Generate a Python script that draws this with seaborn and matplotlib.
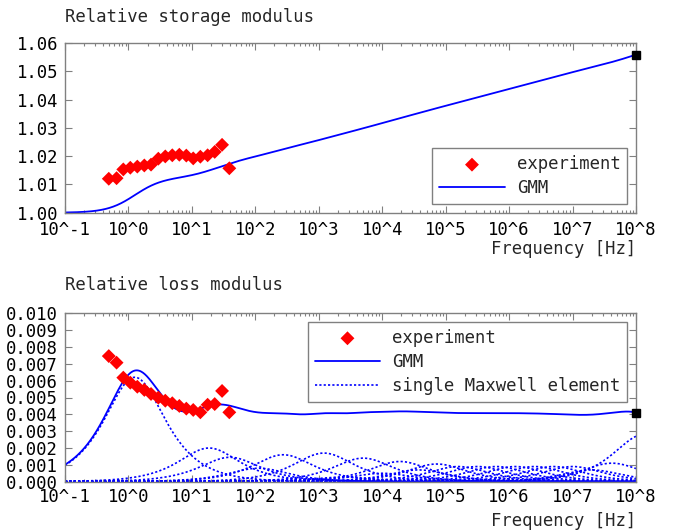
import numpy as np
import pandas as pd
import matplotlib
matplotlib.use("Agg")
import matplotlib.pyplot as plt
import seaborn as sns
from matplotlib.ticker import FixedLocator, FixedFormatter, LogLocator, NullFormatter

# Measured frequencies [Hz] and relative moduli
freq_exp = [0.49, 0.65, 0.83, 1.07, 1.38, 1.78, 2.27, 2.96, 3.81, 4.91,
            6.34, 8.17, 10.5, 13.6, 17.7, 22.9, 29.9, 38.9]
storage_exp = [1.0120, 1.0122, 1.0153, 1.0159, 1.0163, 1.0167, 1.0170, 1.0191, 1.0199,
               1.0203, 1.0205, 1.0202, 1.0192, 1.0198, 1.0203, 1.0215, 1.0240, 1.0157]
loss_exp = [0.00746, 0.00707, 0.00618, 0.00588, 0.00564, 0.00545, 0.00521, 0.00499, 0.00481,
            0.00466, 0.00450, 0.00434, 0.00426, 0.00412, 0.00457, 0.00461, 0.00539, 0.00412]

# Generalized Maxwell model: log10 of each element's characteristic frequency [Hz]
# and the height of its loss peak
elem_logf = [0.10, 1.27, 1.60, 2.05, 2.44, 2.76, 3.08, 3.39, 3.70, 4.00, 4.28, 4.57, 4.86,
             5.20, 5.50, 5.80, 6.10, 6.40, 6.70, 7.00, 7.30, 7.62, 8.12]
elem_peak = [0.0062, 0.0020, 0.00145, 0.0008, 0.0016, 0.00015, 0.0017, 0.00028, 0.0014,
             0.0005, 0.0012, 0.0007, 0.00105, 0.0009, 0.0009, 0.0009, 0.0009, 0.0009,
             0.0009, 0.0009, 0.0007, 0.0011, 0.0028]

xtick_pos = [10.0 ** k for k in range(-1, 9)]
xtick_lab = ["10^%d" % k for k in range(-1, 9)]
storage_ticks = [1.00, 1.01, 1.02, 1.03, 1.04, 1.05, 1.06]
loss_ticks = [0.000, 0.001, 0.002, 0.003, 0.004, 0.005, 0.006, 0.007, 0.008, 0.009, 0.010]

sns.set_style("ticks")
plt.rcParams["font.family"] = ["DejaVu Sans Mono"]
FS = 12.4
plt.rcParams["font.size"] = FS

spine_col = "#808080"
blue = "#0000ff"
red = "#ff0000"

f = np.logspace(-1, 8, 900)
ratios = [f / 10.0 ** lf for lf in elem_logf]
elem_loss = [2 * h * r / (1 + r ** 2) for h, r in zip(elem_peak, ratios)]
gmm_loss = np.sum(elem_loss, axis=0)
gmm_storage = 1 + np.sum([2 * h * r ** 2 / (1 + r ** 2) for h, r in zip(elem_peak, ratios)], axis=0)

exp_df = pd.DataFrame({"f": freq_exp, "storage": storage_exp, "loss": loss_exp})
gmm_df = pd.DataFrame({"f": f, "storage": gmm_storage, "loss": gmm_loss})

fig = plt.figure(figsize=(6.82, 5.31), dpi=100)
ax1 = fig.add_axes([65 / 682, 1 - 212.7 / 531, 571 / 682, 169.7 / 531])
ax2 = fig.add_axes([65 / 682, 1 - 481.7 / 531, 571 / 682, 168.4 / 531])


def style_axis(ax, yticks, yfmt, xpad, labelpad):
    ax.set_xscale("log")
    ax.set_xlim(1e-1, 1e8)
    ax.set_ylim(yticks[0], yticks[-1])
    ax.xaxis.set_major_locator(FixedLocator(xtick_pos))
    ax.xaxis.set_major_formatter(FixedFormatter(xtick_lab))
    ax.xaxis.set_minor_locator(LogLocator(base=10, subs=np.arange(2, 10), numticks=20))
    ax.xaxis.set_minor_formatter(NullFormatter())
    ax.yaxis.set_major_locator(FixedLocator(yticks))
    ax.yaxis.set_major_formatter(FixedFormatter([yfmt % v for v in yticks]))
    ax.tick_params(which="both", direction="in", top=True, right=True,
                   color=spine_col, labelsize=FS, labelcolor="black")
    ax.tick_params(axis="x", which="major", pad=xpad)
    ax.tick_params(axis="y", which="major", pad=5)
    ax.tick_params(which="major", length=5, width=0.8)
    ax.tick_params(which="minor", length=2.5, width=0.8)
    for s in ax.spines.values():
        s.set_color(spine_col)
        s.set_linewidth(1.0)
    ax.set_xlabel("Frequency [Hz]", loc="right", labelpad=labelpad, fontsize=FS)
    ax.set_ylabel("")


legend_kw = dict(handlelength=3.8, handletextpad=0.7, fancybox=False, edgecolor=spine_col,
                 framealpha=1, fontsize=FS, labelspacing=0.35, borderpad=0.4)

# Storage modulus
sns.scatterplot(data=exp_df, x="f", y="storage", ax=ax1, marker="D", s=50,
                color=red, edgecolor="none", label="experiment", zorder=3)
sns.lineplot(data=gmm_df, x="f", y="storage", ax=ax1, color=blue, lw=1.3,
             estimator=None, sort=False, label="GMM")
ax1.plot([f[-1]], [gmm_storage[-1]], marker="s", ms=5.5, color="black", clip_on=False, zorder=5)
style_axis(ax1, storage_ticks, "%.2f", xpad=6.3, labelpad=0.5)
ax1.legend(loc="lower right", **legend_kw)

# Loss modulus
sns.scatterplot(data=exp_df, x="f", y="loss", ax=ax2, marker="D", s=50,
                color=red, edgecolor="none", label="experiment", zorder=3)
sns.lineplot(data=gmm_df, x="f", y="loss", ax=ax2, color=blue, lw=1.3,
             estimator=None, sort=False, label="GMM")
for i, el in enumerate(elem_loss):
    sns.lineplot(x=f, y=el, ax=ax2, color=blue, lw=1.2, linestyle=(0, (1.3, 1.3)),
                 estimator=None, sort=False,
                 label="single Maxwell element" if i == 0 else None)
ax2.plot([f[-1]], [gmm_loss[-1]], marker="s", ms=5.5, color="black", clip_on=False, zorder=5)
style_axis(ax2, loss_ticks, "%.3f", xpad=4.5, labelpad=4.5)
ax2.legend(loc="upper right", **legend_kw)

fig.text(65 / 682, 1 - 17 / 531, "Relative storage modulus", ha="left", va="center", fontsize=FS)
fig.text(65 / 682, 1 - 285 / 531, "Relative loss modulus", ha="left", va="center", fontsize=FS)

fig.savefig("out.png", dpi=100)
